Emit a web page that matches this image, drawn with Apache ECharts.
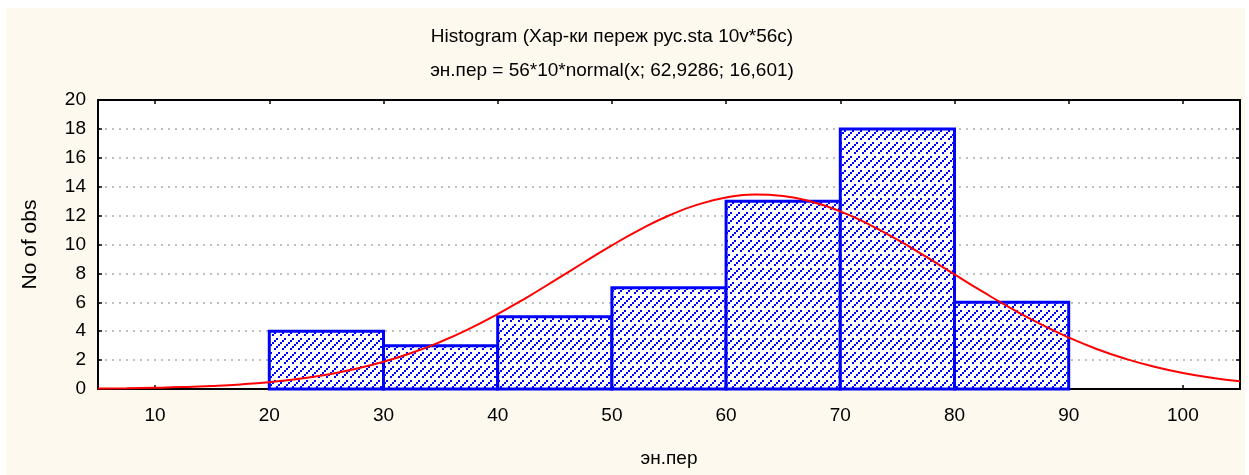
<!DOCTYPE html>
<html>
<head>
<meta charset="utf-8">
<script src="https://cdn.jsdelivr.net/npm/echarts@6/dist/echarts.min.js"></script>
<style>
html,body{margin:0;padding:0;background:#fff;}
#c{width:1249px;height:475px;}
</style>
</head>
<body>
<div id="c"></div>
<script>
// Data
const titleLine1 = 'Histogram (Хар-ки переж рус.sta 10v*56c)';
const titleLine2 = 'эн.пер = 56*10*normal(x; 62,9286; 16,601)';
const xName = 'эн.пер';
const yName = 'No of obs';
const binStarts = [20, 30, 40, 50, 60, 70, 80];
const binEnds   = [30, 40, 50, 60, 70, 80, 90];
const counts    = [4, 3, 5, 7, 13, 18, 6];
const curveX = [5, 7.5, 10, 12.5, 15, 17.5, 20, 22.5, 25, 27.5, 30, 32.5, 35, 37.5, 40, 42.5, 45, 47.5, 50, 52.5, 55, 57.5, 60, 62.5, 65, 67.5, 70, 72.5, 75, 77.5, 80, 82.5, 85, 87.5, 90, 92.5, 95, 97.5, 100, 102.5, 105];
const curveY = [0.031, 0.051, 0.084, 0.133, 0.209, 0.318, 0.475, 0.694, 0.99, 1.38, 1.883, 2.508, 3.269, 4.164, 5.186, 6.312, 7.512, 8.738, 9.937, 11.048, 12.009, 12.758, 13.25, 13.454, 13.354, 12.957, 12.291, 11.398, 10.332, 9.155, 7.931, 6.717, 5.561, 4.5, 3.561, 2.754, 2.082, 1.539, 1.112, 0.786, 0.543];
const xTicks = [10, 20, 30, 40, 50, 60, 70, 80, 90, 100];

// hatch pattern: dashed '/' diagonal lines
const T = 56;
const tile = document.createElement('canvas');
tile.width = T; tile.height = T;
(function(){
  const g = tile.getContext('2d');
  g.fillStyle = '#ffffff'; g.fillRect(0,0,T,T);
  g.fillStyle = '#0000ff';
  for (let o = 0; o < T; o += 8) {
    for (let k = 0; k < T/2; k++) {
      if (k % 7 === 6) continue;
      const x = (2*k + o) % T;
      const y = ((T - 2 - 2*k) % T + T) % T;
      g.fillRect(x, y, 2, 2);
    }
  }
})();
const hatch = {image: tile, repeat: 'repeat'};

const bins = binStarts.map((s,i)=>[s, binEnds[i], counts[i]]);
const curve = curveX.map((x,i)=>[x, curveY[i]]);

const FONT = '"Liberation Sans", Arial, sans-serif';
const FS = 19;
const chart = echarts.init(document.getElementById('c'), null, {renderer:'canvas'});
const axisCommon = {
  axisLine:{show:true, onZero:false, lineStyle:{color:'#000', width:2}},
  axisTick:{show:true, inside:true, length:4, lineStyle:{color:'#000', width:1.5}},
};
chart.setOption({
  backgroundColor:'#ffffff',
  animation:false,
  graphic:[
    {type:'rect', shape:{x:6, y:8, width:1239, height:467}, style:{fill:'#fdf9ef'}, z:-10, silent:true},
    {type:'rect', shape:{x:98, y:100, width:1142, height:289}, style:{fill:'#ffffff'}, z:-9, silent:true},
    {type:'text', x:612, y:37, style:{text:titleLine1, font:'19px '+FONT, fill:'#000', textAlign:'center', textVerticalAlign:'middle'}},
    {type:'text', x:612, y:71, style:{text:titleLine2, font:'19px '+FONT, fill:'#000', textAlign:'center', textVerticalAlign:'middle'}}
  ],
  grid:{left:98, top:100, right:9, bottom:86, show:false},
  xAxis:[
    Object.assign({type:'value', min:5, max:105, position:'bottom',
      name:xName, nameLocation:'middle', nameGap:60,
      nameTextStyle:{color:'#000', fontSize:FS, fontFamily:FONT},
      axisLabel:{customValues:xTicks, color:'#000', fontSize:FS, fontFamily:FONT, margin:17},
      splitLine:{show:false}}, axisCommon, {axisTick:Object.assign({}, axisCommon.axisTick, {customValues:xTicks})}),
    Object.assign({type:'value', min:5, max:105, position:'top',
      axisLabel:{show:false}, splitLine:{show:false}}, axisCommon, {axisTick:Object.assign({}, axisCommon.axisTick, {customValues:xTicks})})
  ],
  yAxis:[
    Object.assign({type:'value', min:0, max:20, interval:2, position:'left',
      name:yName, nameLocation:'middle', nameGap:57,
      nameTextStyle:{color:'#000', fontSize:21, fontFamily:FONT},
      axisLabel:{color:'#000', fontSize:FS, fontFamily:FONT, margin:12},
      splitLine:{show:true, lineStyle:{color:'#c0c0c0', type:[2,5], width:2}}}, axisCommon),
    Object.assign({type:'value', min:0, max:20, interval:2, position:'right',
      axisLabel:{show:false}, splitLine:{show:false}}, axisCommon)
  ],
  series:[
    {type:'custom', xAxisIndex:0, yAxisIndex:0, data:bins, z:3,
      renderItem:function(params, api){
        const p0 = api.coord([api.value(0), 0]);
        const p1 = api.coord([api.value(1), api.value(2)]);
        return {type:'rect', shape:{x:p0[0], y:p1[1], width:p1[0]-p0[0], height:p0[1]-p1[1]},
          style:{fill:hatch, stroke:'#0000ff', lineWidth:3}};
      }},
    {type:'line', xAxisIndex:0, yAxisIndex:0, data:curve, smooth:true, showSymbol:false, z:5,
      lineStyle:{color:'#ff0000', width:2}}
  ]
});
</script>
</body>
</html>
